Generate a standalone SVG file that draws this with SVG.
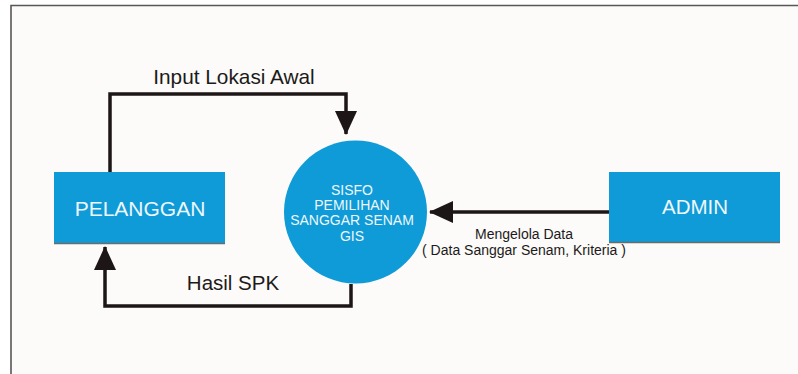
<svg xmlns="http://www.w3.org/2000/svg" width="798" height="374" viewBox="0 0 798 374">
<defs>
<style>
.bg{fill:#fcfbf9}
.frame{fill:none;stroke:#5a5656;stroke-width:1.6}
.box{fill:#0e9bd7}
.shadow{fill:none;stroke:#6b6b6b;stroke-width:1.5}
.lbl{font-family:"Liberation Sans",Arial,sans-serif;fill:#eef7fc;text-anchor:middle}
.conn{fill:none;stroke:#1c1616;stroke-width:3.5;stroke-linejoin:miter}
.ct{font-family:"Liberation Sans",Arial,sans-serif;fill:#1c1a1a;text-anchor:middle}
</style>
<marker id="ah" markerUnits="userSpaceOnUse" markerWidth="24" markerHeight="22" refX="23" refY="11" orient="auto">
<path d="M0,0 L24,11 L0,22 z" fill="#1c1616"/>
</marker>
</defs>
<rect x="0" y="0" width="798" height="374" fill="#ffffff"/>
<rect class="bg" x="11" y="6" width="787" height="368"/>
<path class="frame" d="M11,374 L11,5.5 L798,5.5"/>
<g id="connectors">
<path class="conn" d="M110,172 L110,94 L346,94 L346,134" marker-end="url(#ah)"/>
<path class="conn" d="M351,284 L351,306 L105,306 L105,247" marker-end="url(#ah)"/>
<path class="conn" d="M609,212 L430,212" marker-end="url(#ah)"/>
<text class="ct" x="234" y="84" font-size="20.8">Input Lokasi Awal</text>
<text class="ct" x="233" y="290" font-size="20.5">Hasil SPK</text>
<text class="ct" x="524" y="239" font-size="14">Mengelola Data</text>
<text class="ct" x="524" y="255" font-size="14">( Data Sanggar Senam, Kriteria )</text>
</g>
<g id="pelanggan">
<rect class="box" x="54" y="172" width="171" height="71"/>
<line class="shadow" x1="54" y1="243.5" x2="225" y2="243.5"/>
<text class="lbl" x="140" y="216" font-size="21">PELANGGAN</text>
</g>
<g id="sisfo">
<circle class="box" cx="355.5" cy="212" r="71.5"/>
<text class="lbl" x="352" y="195" font-size="14">SISFO</text>
<text class="lbl" x="352" y="210" font-size="14">PEMILIHAN</text>
<text class="lbl" x="352" y="225" font-size="14">SANGGAR SENAM</text>
<text class="lbl" x="352" y="241" font-size="14">GIS</text>
</g>
<g id="admin">
<rect class="box" x="609" y="172" width="171" height="70"/>
<line class="shadow" x1="609" y1="242.5" x2="780" y2="242.5"/>
<text class="lbl" x="695" y="214" font-size="20.5">ADMIN</text>
</g>
</svg>
